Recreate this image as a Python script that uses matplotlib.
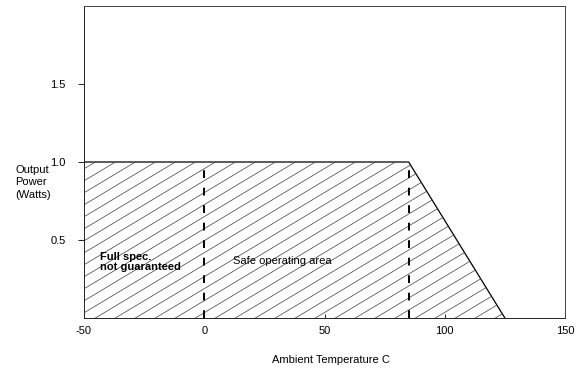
import numpy as np
import matplotlib.pyplot as plt
from matplotlib.patches import Polygon

plt.rcParams['font.family'] = ['Liberation Sans', 'DejaVu Sans']

# derating curve (ambient temp C, output power W)
temp = [-50, 85, 125]
power = [1.0, 1.0, 0.0]
markers_x = [0, 85]   # dashed boundaries
xticks = [-50, 0, 50, 100, 150]
yticks = [0.5, 1.0, 1.5]

fig = plt.figure(figsize=(5.83, 3.69), dpi=100)
ax = fig.add_axes([84/583, 1 - 318/369, 481/583, 312/369])
ax.set_xlim(-50, 150)
ax.set_ylim(0, 2.0)

# hatched region under the curve
verts = [(temp[0], 0)] + list(zip(temp, power)) + [(temp[-1], 0)]
poly = Polygon(verts, closed=True, facecolor='none', edgecolor='none')
ax.add_patch(poly)
ax.plot(temp, power, color='black', lw=0.9)

# shallow diagonal hatch lines, clipped to the region
W, H = 481.0, 312.0
slope = 0.6 * W / H
for c in np.arange(-slope - 0.02, 1.0, 12.0 / H):
    xs = np.array([0, 1])
    ln, = ax.plot(xs, slope * xs + c, transform=ax.transAxes,
                  color='#3a3a3a', lw=0.5)
    ln.set_clip_path(poly)

for xv in markers_x:
    ax.plot([xv, xv], [0, 1.0], color='black', lw=1.4, dashes=(4, 5))

ax.text(-43.3, 0.36, 'Full spec.\nnot guaranteed', fontsize=8, fontweight='bold',
        va='center', ha='left', linespacing=0.95)
ax.text(12, 0.365, 'Safe operating area', fontsize=8, va='center', ha='left')

for s in ax.spines.values():
    s.set_linewidth(0.7)
    s.set_color('#444444')
ax.spines['bottom'].set_color('#222222')
ax.spines['left'].set_color('#222222')

ax.set_xticks(xticks)
ax.set_xticklabels(['-50', '0', '50', '100', '150'])
ax.set_yticks(yticks)
ax.set_yticklabels(['0.5', '1.0', '1.5'])
ax.tick_params(axis='x', direction='in', length=3, width=0.6, labelsize=8, pad=6)
ax.tick_params(axis='y', direction='out', length=4, width=0.6, labelsize=8, pad=9)

fig.text(15/583, 1 - 165/369, 'Output\nPower\n(Watts)', fontsize=8,
         ha='left', va='top', linespacing=1.3)
fig.text(331/583, 1 - 360/369, 'Ambient Temperature C', fontsize=8,
         ha='center', va='center')

fig.savefig('out.png', dpi=100)
